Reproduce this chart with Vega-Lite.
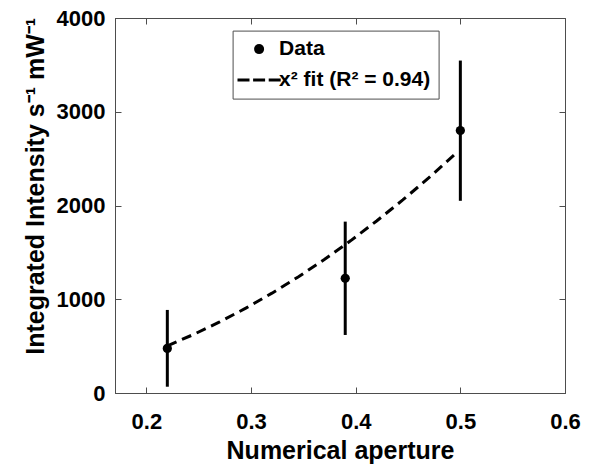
{
  "$schema": "https://vega.github.io/schema/vega-lite/v6.json",
  "width": 450,
  "height": 375,
  "autosize": {"type": "none"},
  "padding": {"left": 115, "top": 18, "right": 25, "bottom": 72},
  "background": "white",
  "config": {
    "view": {"stroke": "#4d4d4d", "strokeWidth": 1},
    "font": "Liberation Sans",
    "axis": {
      "domainColor": "#4d4d4d",
      "tickColor": "#4d4d4d",
      "tickSize": -6,
      "grid": false,
      "labelFont": "Liberation Sans",
      "labelFontSize": 22,
      "labelFontWeight": "bold",
      "labelColor": "black",
      "labelFlush": false,
      "labelOverlap": false,
      "titleFont": "Liberation Sans",
      "titleFontSize": 25,
      "titleFontWeight": "bold",
      "titleColor": "black"
    }
  },
  "datasets": {
    "obs": [
      {"na": 0.22, "intensity": 476, "low": 67, "high": 886, "series": "Data"},
      {"na": 0.39, "intensity": 1223, "low": 619, "high": 1828, "series": "Data"},
      {"na": 0.5, "intensity": 2800, "low": 2050, "high": 3546, "series": "Data"}
    ],
    "fit": [
      {"na": 0.22, "intensity": 503},
      {"na": 0.245, "intensity": 624},
      {"na": 0.27, "intensity": 758},
      {"na": 0.295, "intensity": 905},
      {"na": 0.32, "intensity": 1065},
      {"na": 0.345, "intensity": 1238},
      {"na": 0.37, "intensity": 1424},
      {"na": 0.395, "intensity": 1623},
      {"na": 0.42, "intensity": 1835},
      {"na": 0.445, "intensity": 2059},
      {"na": 0.47, "intensity": 2297},
      {"na": 0.495, "intensity": 2548}
    ]
  },
  "layer": [
    {
      "data": {"name": "fit"},
      "mark": {"type": "line", "strokeDash": [10, 6], "strokeWidth": 3, "color": "black"},
      "encoding": {
        "x": {
          "field": "na", "type": "quantitative",
          "scale": {"domain": [0.17, 0.6], "nice": false, "zero": false},
          "axis": {"orient": "bottom", "values": [0.2, 0.3, 0.4, 0.5, 0.6], "format": ".1f", "labelPadding": 24, "title": "Numerical aperture", "titleY": 65.4, "titleBaseline": "alphabetic"}
        },
        "y": {
          "field": "intensity", "type": "quantitative",
          "scale": {"domain": [0, 4000], "nice": false},
          "axis": {"orient": "left", "values": [0, 1000, 2000, 3000, 4000], "format": "d", "labelPadding": 16, "title": "Integrated Intensity s⁻¹ mW⁻¹", "titleX": -71.4, "titleY": 167.8, "titleBaseline": "alphabetic"}
        }
      }
    },
    {
      "data": {"name": "obs"},
      "mark": {"type": "rule", "strokeWidth": 3, "color": "black"},
      "encoding": {
        "x": {"field": "na", "type": "quantitative", "axis": null},
        "y": {"field": "low", "type": "quantitative", "axis": null},
        "y2": {"field": "high"}
      }
    },
    {
      "data": {"name": "obs"},
      "mark": {"type": "point", "filled": true, "size": 85, "opacity": 1, "color": "black"},
      "encoding": {
        "x": {"field": "na", "type": "quantitative", "axis": {"orient": "top", "values": [0.2, 0.3, 0.4, 0.5], "labels": false, "title": null}},
        "y": {"field": "intensity", "type": "quantitative", "axis": {"orient": "right", "values": [1000, 2000, 3000], "labels": false, "title": null}},
        "shape": {
          "field": "series", "type": "nominal",
          "scale": {"domain": ["Data", "x² fit (R² = 0.94)"], "range": ["circle", "M-4.32,-0.3H-1.92V0.3H-4.32Z M-1.2,-0.3H1.2V0.3H-1.2Z M1.92,-0.3H4.32V0.3H1.92Z"]},
          "legend": {
            "title": null,
            "orient": "none",
            "legendX": 117.6,
            "legendY": 12.6,
            "strokeColor": "#4d4d4d",
            "fillColor": "white",
            "padding": 8,
            "symbolSize": 100,
            "symbolOffset": 8,
            "labelOffset": 9.5,
            "rowPadding": 9,
            "symbolFillColor": "black",
            "symbolStrokeWidth": 0,
            "symbolOpacity": 1,
            "labelFont": "Liberation Sans",
            "labelFontSize": 21,
            "labelFontWeight": "bold",
            "labelColor": "black",
            "labelLimit": 300,
            "encode": {"symbols": {"fill": {"value": "black"}, "fillOpacity": {"value": 1}, "opacity": {"value": 1}}}
          }
        }
      }
    }
  ],
  "resolve": {"axis": {"x": "independent", "y": "independent"}}
}
